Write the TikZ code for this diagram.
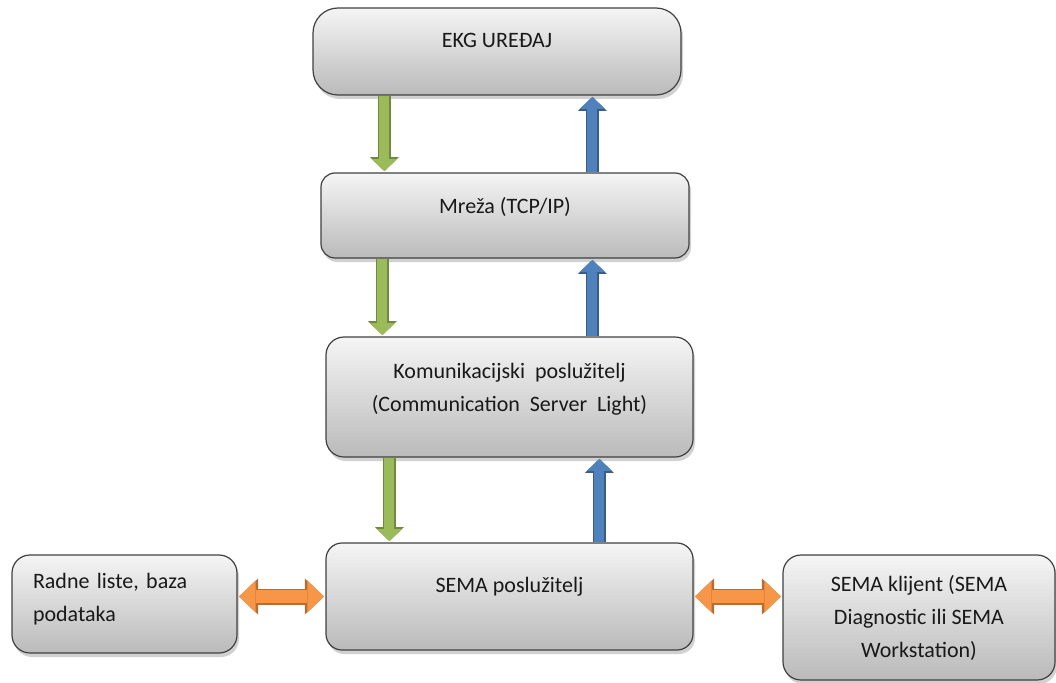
\documentclass[tikz,border=0pt]{standalone}
\usepackage{fontspec}
\setmainfont{Carlito}
\usetikzlibrary{arrows.meta,shadows}
\newcommand{\lift}[1]{\rule[-#1]{0pt}{#1}}
\definecolor{flowGreen}{RGB}{155,187,89}
\definecolor{flowGreenDark}{RGB}{113,137,63}
\definecolor{flowBlue}{RGB}{79,129,189}
\definecolor{flowBlueDark}{RGB}{56,93,138}
\definecolor{flowOrange}{RGB}{247,150,70}
\definecolor{flowOrangeDark}{RGB}{182,109,49}

\begin{document}
\begin{tikzpicture}[x=1pt, y=-1pt,
    every node/.style={font=\fontsize{22}{33}\selectfont, text=black!90},
    unit/.style={draw=black!75, line width=1.2pt, rounded corners=18pt,
      top color=black!4, bottom color=black!27, align=center,
      drop shadow={shadow xshift=2pt, shadow yshift=-4pt, opacity=0.3, fill=black!60}},
    flow/.style 2 args={preaction={draw=#2, line width=13pt,
        -{Triangle[width=29pt,length=14pt,line width=0pt]}},
      draw=#1, line width=10pt, shorten >=1.3pt,
      -{Triangle[width=25pt,length=12pt,line width=0pt]}},
    both/.style 2 args={preaction={draw=#2, line width=16pt,
        {Triangle[width=36pt,length=19pt,line width=0pt]}-{Triangle[width=36pt,length=19pt,line width=0pt]}},
      draw=#1, line width=12.5pt, shorten >=1.5pt, shorten <=1.5pt,
      {Triangle[width=32pt,length=16.5pt,line width=0pt]}-{Triangle[width=32pt,length=16.5pt,line width=0pt]}}]
  \useasboundingbox (0,0) rectangle (1056,682);

  % boxes
  \node[unit, rounded corners=25pt, minimum width=368pt, minimum height=87pt]
    (ekg) at (497,51.5) {EKG UREĐAJ\lift{22pt}};
  \node[unit, rounded corners=14pt, minimum width=368pt, minimum height=85pt]
    (mreza) at (505,215.5) {Mreža (TCP/IP)\lift{20pt}};
  \node[unit, minimum width=367pt, minimum height=120pt]
    (kom) at (509.5,397) {Komunikacijski\ \ poslužitelj\\(Communication\ \ Server\ \ Light)\lift{20pt}};
  \node[unit, rounded corners=16pt, minimum width=367pt, minimum height=107pt]
    (sema) at (509.5,596.5) {SEMA poslužitelj\lift{24pt}};
  \node[unit, minimum width=225pt, minimum height=98pt, align=left,
    text width=183pt, inner xsep=0pt]
    (radne) at (124.5,604) {Radne liste, baza\\podataka\lift{14pt}};
  \node[unit, minimum width=272pt, minimum height=125pt]
    (klijent) at (919,617.5) {SEMA klijent (SEMA\\Diagnostic ili SEMA\\Workstation)};

  % arrow positions
  \coordinate (g1) at ([xshift=72pt]ekg.south west);
  \coordinate (b1) at ([xshift=272pt]mreza.north west);
  \coordinate (g2) at ([xshift=62pt]mreza.south west);
  \coordinate (b2) at ([xshift=267pt]kom.north west);
  \coordinate (g3) at ([xshift=64pt]kom.south west);
  \coordinate (b3) at ([xshift=274pt]sema.north west);

  % downward and upward flow
  \draw[flow={flowGreen}{flowGreenDark}] (g1) -- (g1 |- mreza.north);
  \draw[flow={flowBlue}{flowBlueDark}] (b1) -- (b1 |- ekg.south);
  \draw[flow={flowGreen}{flowGreenDark}] (g2) -- (g2 |- kom.north);
  \draw[flow={flowBlue}{flowBlueDark}] (b2) -- (b2 |- mreza.south);
  \draw[flow={flowGreen}{flowGreenDark}] (g3) -- (g3 |- sema.north);
  \draw[flow={flowBlue}{flowBlueDark}] (b3) -- (b3 |- kom.south);

  % side links
  \draw[both={flowOrange}{flowOrangeDark}] (sema.west -| radne.east) -- (sema.west);
  \draw[both={flowOrange}{flowOrangeDark}] (sema.east) -- (sema.east -| klijent.west);
\end{tikzpicture}
\end{document}
